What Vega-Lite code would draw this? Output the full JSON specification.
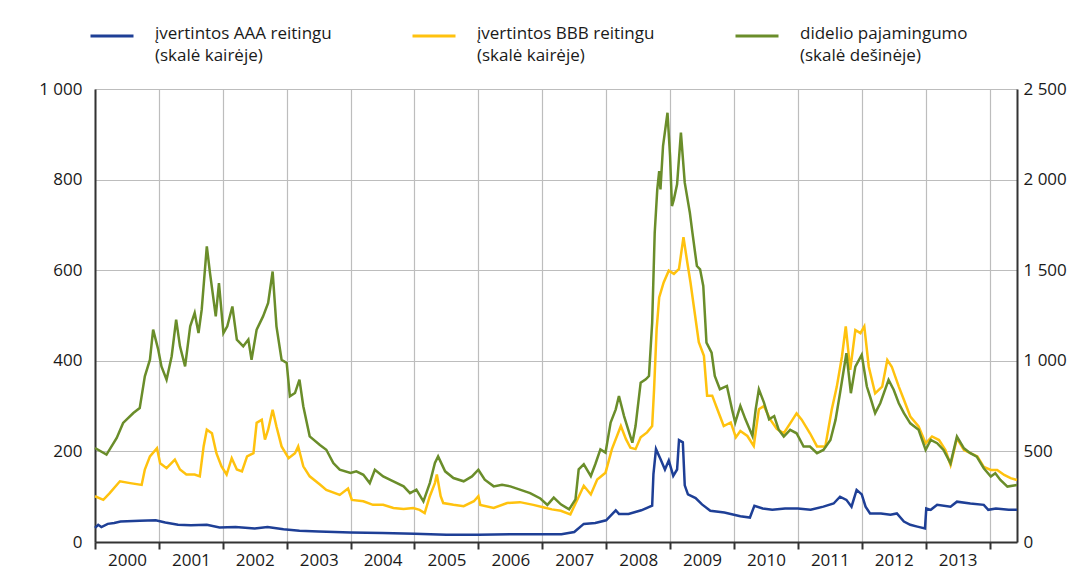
{
  "$schema": "https://vega.github.io/schema/vega-lite/v6.json",
  "autosize": {"type": "none"},
  "width": 922,
  "height": 453,
  "padding": {"left": 95, "top": 89, "right": 58, "bottom": 27},
  "background": "white",
  "config": {
    "view": {"stroke": null},
    "font": "Open Sans",
    "axis": {"labelFont": "Open Sans", "labelFontSize": 17, "labelColor": "#1a1a1a", "title": null}
  },
  "data": {"values": [
    {"t":2000.00,"s":"AAA","v":31},{"t":2000.05,"s":"AAA","v":38},{"t":2000.10,"s":"AAA","v":33},{"t":2000.20,"s":"AAA","v":40},{"t":2000.30,"s":"AAA","v":42},{"t":2000.40,"s":"AAA","v":45},{"t":2000.50,"s":"AAA","v":46},{"t":2000.70,"s":"AAA","v":47},{"t":2000.95,"s":"AAA","v":48},{"t":2001.10,"s":"AAA","v":43},{"t":2001.30,"s":"AAA","v":38},{"t":2001.50,"s":"AAA","v":37},{"t":2001.75,"s":"AAA","v":38},{"t":2001.95,"s":"AAA","v":32},{"t":2002.20,"s":"AAA","v":33},{"t":2002.50,"s":"AAA","v":30},{"t":2002.70,"s":"AAA","v":33},{"t":2002.95,"s":"AAA","v":28},{"t":2003.20,"s":"AAA","v":25},{"t":2003.50,"s":"AAA","v":23},{"t":2004.00,"s":"AAA","v":21},{"t":2004.50,"s":"AAA","v":20},{"t":2005.00,"s":"AAA","v":18},{"t":2005.50,"s":"AAA","v":16},{"t":2006.00,"s":"AAA","v":16},{"t":2006.50,"s":"AAA","v":17},{"t":2007.00,"s":"AAA","v":17},{"t":2007.30,"s":"AAA","v":17},{"t":2007.50,"s":"AAA","v":22},{"t":2007.65,"s":"AAA","v":40},{"t":2007.83,"s":"AAA","v":42},{"t":2008.00,"s":"AAA","v":48},{"t":2008.15,"s":"AAA","v":70},{"t":2008.20,"s":"AAA","v":62},{"t":2008.35,"s":"AAA","v":62},{"t":2008.55,"s":"AAA","v":70},{"t":2008.72,"s":"AAA","v":80},{"t":2008.74,"s":"AAA","v":150},{"t":2008.78,"s":"AAA","v":205},{"t":2008.85,"s":"AAA","v":183},{"t":2008.92,"s":"AAA","v":160},{"t":2008.98,"s":"AAA","v":180},{"t":2009.05,"s":"AAA","v":146},{"t":2009.11,"s":"AAA","v":160},{"t":2009.14,"s":"AAA","v":225},{"t":2009.20,"s":"AAA","v":220},{"t":2009.23,"s":"AAA","v":125},{"t":2009.28,"s":"AAA","v":105},{"t":2009.40,"s":"AAA","v":97},{"t":2009.50,"s":"AAA","v":83},{"t":2009.63,"s":"AAA","v":69},{"t":2009.85,"s":"AAA","v":65},{"t":2010.10,"s":"AAA","v":57},{"t":2010.25,"s":"AAA","v":54},{"t":2010.32,"s":"AAA","v":80},{"t":2010.45,"s":"AAA","v":74},{"t":2010.60,"s":"AAA","v":71},{"t":2010.80,"s":"AAA","v":74},{"t":2011.00,"s":"AAA","v":74},{"t":2011.20,"s":"AAA","v":71},{"t":2011.40,"s":"AAA","v":78},{"t":2011.56,"s":"AAA","v":85},{"t":2011.66,"s":"AAA","v":100},{"t":2011.76,"s":"AAA","v":93},{"t":2011.84,"s":"AAA","v":78},{"t":2011.92,"s":"AAA","v":115},{"t":2012.00,"s":"AAA","v":105},{"t":2012.06,"s":"AAA","v":78},{"t":2012.13,"s":"AAA","v":63},{"t":2012.30,"s":"AAA","v":63},{"t":2012.45,"s":"AAA","v":60},{"t":2012.55,"s":"AAA","v":63},{"t":2012.66,"s":"AAA","v":45},{"t":2012.76,"s":"AAA","v":38},{"t":2012.87,"s":"AAA","v":34},{"t":2012.99,"s":"AAA","v":30},{"t":2013.01,"s":"AAA","v":74},{"t":2013.08,"s":"AAA","v":71},{"t":2013.18,"s":"AAA","v":82},{"t":2013.39,"s":"AAA","v":78},{"t":2013.49,"s":"AAA","v":89},{"t":2013.70,"s":"AAA","v":85},{"t":2013.91,"s":"AAA","v":82},{"t":2013.98,"s":"AAA","v":71},{"t":2014.10,"s":"AAA","v":74},{"t":2014.30,"s":"AAA","v":71},{"t":2014.43,"s":"AAA","v":71},
    {"t":2000.00,"s":"BBB","v":101},{"t":2000.13,"s":"BBB","v":93},{"t":2000.23,"s":"BBB","v":108},{"t":2000.39,"s":"BBB","v":134},{"t":2000.55,"s":"BBB","v":130},{"t":2000.73,"s":"BBB","v":126},{"t":2000.78,"s":"BBB","v":160},{"t":2000.86,"s":"BBB","v":189},{"t":2000.97,"s":"BBB","v":207},{"t":2001.02,"s":"BBB","v":174},{"t":2001.12,"s":"BBB","v":163},{"t":2001.25,"s":"BBB","v":182},{"t":2001.33,"s":"BBB","v":160},{"t":2001.43,"s":"BBB","v":149},{"t":2001.56,"s":"BBB","v":149},{"t":2001.64,"s":"BBB","v":145},{"t":2001.70,"s":"BBB","v":211},{"t":2001.75,"s":"BBB","v":248},{"t":2001.83,"s":"BBB","v":240},{"t":2001.90,"s":"BBB","v":196},{"t":2001.98,"s":"BBB","v":167},{"t":2002.06,"s":"BBB","v":149},{"t":2002.14,"s":"BBB","v":185},{"t":2002.22,"s":"BBB","v":160},{"t":2002.30,"s":"BBB","v":156},{"t":2002.38,"s":"BBB","v":189},{"t":2002.48,"s":"BBB","v":196},{"t":2002.53,"s":"BBB","v":263},{"t":2002.61,"s":"BBB","v":270},{"t":2002.66,"s":"BBB","v":226},{"t":2002.71,"s":"BBB","v":248},{"t":2002.78,"s":"BBB","v":292},{"t":2002.84,"s":"BBB","v":255},{"t":2002.92,"s":"BBB","v":211},{"t":2003.03,"s":"BBB","v":185},{"t":2003.13,"s":"BBB","v":196},{"t":2003.18,"s":"BBB","v":211},{"t":2003.26,"s":"BBB","v":167},{"t":2003.36,"s":"BBB","v":145},{"t":2003.52,"s":"BBB","v":127},{"t":2003.62,"s":"BBB","v":115},{"t":2003.83,"s":"BBB","v":104},{"t":2003.96,"s":"BBB","v":118},{"t":2004.02,"s":"BBB","v":93},{"t":2004.20,"s":"BBB","v":90},{"t":2004.35,"s":"BBB","v":82},{"t":2004.51,"s":"BBB","v":82},{"t":2004.67,"s":"BBB","v":75},{"t":2004.83,"s":"BBB","v":73},{"t":2004.98,"s":"BBB","v":75},{"t":2005.08,"s":"BBB","v":71},{"t":2005.16,"s":"BBB","v":64},{"t":2005.24,"s":"BBB","v":101},{"t":2005.32,"s":"BBB","v":130},{"t":2005.35,"s":"BBB","v":149},{"t":2005.41,"s":"BBB","v":101},{"t":2005.45,"s":"BBB","v":86},{"t":2005.61,"s":"BBB","v":82},{"t":2005.77,"s":"BBB","v":79},{"t":2005.93,"s":"BBB","v":90},{"t":2006.00,"s":"BBB","v":101},{"t":2006.03,"s":"BBB","v":82},{"t":2006.24,"s":"BBB","v":75},{"t":2006.45,"s":"BBB","v":86},{"t":2006.65,"s":"BBB","v":88},{"t":2006.86,"s":"BBB","v":82},{"t":2007.03,"s":"BBB","v":76},{"t":2007.15,"s":"BBB","v":72},{"t":2007.29,"s":"BBB","v":69},{"t":2007.44,"s":"BBB","v":61},{"t":2007.55,"s":"BBB","v":94},{"t":2007.65,"s":"BBB","v":124},{"t":2007.76,"s":"BBB","v":105},{"t":2007.86,"s":"BBB","v":138},{"t":2007.99,"s":"BBB","v":153},{"t":2008.09,"s":"BBB","v":205},{"t":2008.23,"s":"BBB","v":256},{"t":2008.31,"s":"BBB","v":227},{"t":2008.38,"s":"BBB","v":208},{"t":2008.46,"s":"BBB","v":205},{"t":2008.54,"s":"BBB","v":231},{"t":2008.64,"s":"BBB","v":242},{"t":2008.72,"s":"BBB","v":256},{"t":2008.75,"s":"BBB","v":337},{"t":2008.79,"s":"BBB","v":470},{"t":2008.83,"s":"BBB","v":540},{"t":2008.90,"s":"BBB","v":573},{"t":2008.98,"s":"BBB","v":599},{"t":2009.06,"s":"BBB","v":592},{"t":2009.14,"s":"BBB","v":603},{"t":2009.21,"s":"BBB","v":673},{"t":2009.27,"s":"BBB","v":617},{"t":2009.32,"s":"BBB","v":573},{"t":2009.37,"s":"BBB","v":522},{"t":2009.45,"s":"BBB","v":441},{"t":2009.53,"s":"BBB","v":411},{"t":2009.58,"s":"BBB","v":323},{"t":2009.66,"s":"BBB","v":323},{"t":2009.74,"s":"BBB","v":293},{"t":2009.84,"s":"BBB","v":256},{"t":2009.95,"s":"BBB","v":264},{"t":2010.03,"s":"BBB","v":231},{"t":2010.10,"s":"BBB","v":245},{"t":2010.21,"s":"BBB","v":234},{"t":2010.31,"s":"BBB","v":212},{"t":2010.39,"s":"BBB","v":293},{"t":2010.47,"s":"BBB","v":300},{"t":2010.57,"s":"BBB","v":270},{"t":2010.67,"s":"BBB","v":250},{"t":2010.78,"s":"BBB","v":240},{"t":2010.88,"s":"BBB","v":262},{"t":2010.98,"s":"BBB","v":284},{"t":2011.06,"s":"BBB","v":270},{"t":2011.19,"s":"BBB","v":240},{"t":2011.30,"s":"BBB","v":211},{"t":2011.43,"s":"BBB","v":211},{"t":2011.53,"s":"BBB","v":292},{"t":2011.61,"s":"BBB","v":343},{"t":2011.69,"s":"BBB","v":409},{"t":2011.75,"s":"BBB","v":476},{"t":2011.82,"s":"BBB","v":380},{"t":2011.90,"s":"BBB","v":468},{"t":2011.98,"s":"BBB","v":461},{"t":2012.04,"s":"BBB","v":476},{"t":2012.11,"s":"BBB","v":387},{"t":2012.21,"s":"BBB","v":328},{"t":2012.32,"s":"BBB","v":343},{"t":2012.40,"s":"BBB","v":402},{"t":2012.47,"s":"BBB","v":387},{"t":2012.58,"s":"BBB","v":343},{"t":2012.66,"s":"BBB","v":314},{"t":2012.76,"s":"BBB","v":277},{"t":2012.89,"s":"BBB","v":255},{"t":2013.00,"s":"BBB","v":218},{"t":2013.10,"s":"BBB","v":233},{"t":2013.21,"s":"BBB","v":225},{"t":2013.31,"s":"BBB","v":203},{"t":2013.39,"s":"BBB","v":170},{"t":2013.49,"s":"BBB","v":229},{"t":2013.60,"s":"BBB","v":203},{"t":2013.70,"s":"BBB","v":196},{"t":2013.81,"s":"BBB","v":189},{"t":2013.91,"s":"BBB","v":166},{"t":2014.02,"s":"BBB","v":159},{"t":2014.12,"s":"BBB","v":159},{"t":2014.23,"s":"BBB","v":148},{"t":2014.33,"s":"BBB","v":141},{"t":2014.43,"s":"BBB","v":137},
    {"t":2000.00,"s":"HY","v":519},{"t":2000.18,"s":"HY","v":482},{"t":2000.34,"s":"HY","v":574},{"t":2000.44,"s":"HY","v":657},{"t":2000.60,"s":"HY","v":712},{"t":2000.70,"s":"HY","v":739},{"t":2000.78,"s":"HY","v":914},{"t":2000.86,"s":"HY","v":1006},{"t":2000.91,"s":"HY","v":1172},{"t":2000.99,"s":"HY","v":1061},{"t":2001.04,"s":"HY","v":969},{"t":2001.12,"s":"HY","v":896},{"t":2001.20,"s":"HY","v":1025},{"t":2001.27,"s":"HY","v":1227},{"t":2001.33,"s":"HY","v":1080},{"t":2001.41,"s":"HY","v":969},{"t":2001.49,"s":"HY","v":1190},{"t":2001.56,"s":"HY","v":1264},{"t":2001.62,"s":"HY","v":1153},{"t":2001.67,"s":"HY","v":1282},{"t":2001.75,"s":"HY","v":1632},{"t":2001.80,"s":"HY","v":1484},{"t":2001.89,"s":"HY","v":1245},{"t":2001.94,"s":"HY","v":1429},{"t":2002.01,"s":"HY","v":1153},{"t":2002.07,"s":"HY","v":1190},{"t":2002.15,"s":"HY","v":1300},{"t":2002.22,"s":"HY","v":1117},{"t":2002.32,"s":"HY","v":1080},{"t":2002.40,"s":"HY","v":1117},{"t":2002.45,"s":"HY","v":1006},{"t":2002.53,"s":"HY","v":1172},{"t":2002.63,"s":"HY","v":1245},{"t":2002.71,"s":"HY","v":1319},{"t":2002.78,"s":"HY","v":1493},{"t":2002.84,"s":"HY","v":1190},{"t":2002.92,"s":"HY","v":1006},{"t":2003.00,"s":"HY","v":988},{"t":2003.05,"s":"HY","v":804},{"t":2003.13,"s":"HY","v":822},{"t":2003.20,"s":"HY","v":896},{"t":2003.26,"s":"HY","v":749},{"t":2003.36,"s":"HY","v":583},{"t":2003.52,"s":"HY","v":535},{"t":2003.62,"s":"HY","v":509},{"t":2003.73,"s":"HY","v":436},{"t":2003.83,"s":"HY","v":399},{"t":2004.00,"s":"HY","v":381},{"t":2004.09,"s":"HY","v":390},{"t":2004.20,"s":"HY","v":371},{"t":2004.30,"s":"HY","v":325},{"t":2004.38,"s":"HY","v":399},{"t":2004.51,"s":"HY","v":362},{"t":2004.67,"s":"HY","v":335},{"t":2004.83,"s":"HY","v":307},{"t":2004.93,"s":"HY","v":270},{"t":2005.03,"s":"HY","v":289},{"t":2005.14,"s":"HY","v":224},{"t":2005.24,"s":"HY","v":325},{"t":2005.32,"s":"HY","v":436},{"t":2005.37,"s":"HY","v":472},{"t":2005.48,"s":"HY","v":390},{"t":2005.61,"s":"HY","v":353},{"t":2005.77,"s":"HY","v":335},{"t":2005.90,"s":"HY","v":362},{"t":2006.00,"s":"HY","v":399},{"t":2006.10,"s":"HY","v":344},{"t":2006.24,"s":"HY","v":307},{"t":2006.37,"s":"HY","v":316},{"t":2006.50,"s":"HY","v":307},{"t":2006.65,"s":"HY","v":289},{"t":2006.81,"s":"HY","v":270},{"t":2006.97,"s":"HY","v":240},{"t":2007.08,"s":"HY","v":205},{"t":2007.18,"s":"HY","v":245},{"t":2007.29,"s":"HY","v":208},{"t":2007.42,"s":"HY","v":180},{"t":2007.52,"s":"HY","v":235},{"t":2007.57,"s":"HY","v":401},{"t":2007.65,"s":"HY","v":429},{"t":2007.76,"s":"HY","v":364},{"t":2007.83,"s":"HY","v":429},{"t":2007.91,"s":"HY","v":511},{"t":2007.99,"s":"HY","v":493},{"t":2008.07,"s":"HY","v":659},{"t":2008.15,"s":"HY","v":732},{"t":2008.20,"s":"HY","v":806},{"t":2008.28,"s":"HY","v":695},{"t":2008.36,"s":"HY","v":603},{"t":2008.41,"s":"HY","v":548},{"t":2008.46,"s":"HY","v":640},{"t":2008.54,"s":"HY","v":879},{"t":2008.62,"s":"HY","v":898},{"t":2008.67,"s":"HY","v":916},{"t":2008.72,"s":"HY","v":1210},{"t":2008.76,"s":"HY","v":1707},{"t":2008.80,"s":"HY","v":1946},{"t":2008.83,"s":"HY","v":2047},{"t":2008.85,"s":"HY","v":1946},{"t":2008.89,"s":"HY","v":2185},{"t":2008.96,"s":"HY","v":2369},{"t":2009.00,"s":"HY","v":2130},{"t":2009.03,"s":"HY","v":1854},{"t":2009.06,"s":"HY","v":1891},{"t":2009.11,"s":"HY","v":1974},{"t":2009.17,"s":"HY","v":2259},{"t":2009.23,"s":"HY","v":1983},{"t":2009.31,"s":"HY","v":1817},{"t":2009.35,"s":"HY","v":1707},{"t":2009.42,"s":"HY","v":1523},{"t":2009.47,"s":"HY","v":1505},{"t":2009.52,"s":"HY","v":1413},{"t":2009.57,"s":"HY","v":1100},{"t":2009.65,"s":"HY","v":1045},{"t":2009.70,"s":"HY","v":916},{"t":2009.78,"s":"HY","v":843},{"t":2009.89,"s":"HY","v":861},{"t":2009.97,"s":"HY","v":732},{"t":2010.02,"s":"HY","v":659},{"t":2010.10,"s":"HY","v":751},{"t":2010.18,"s":"HY","v":677},{"t":2010.29,"s":"HY","v":585},{"t":2010.34,"s":"HY","v":732},{"t":2010.39,"s":"HY","v":843},{"t":2010.47,"s":"HY","v":769},{"t":2010.55,"s":"HY","v":677},{"t":2010.63,"s":"HY","v":695},{"t":2010.70,"s":"HY","v":620},{"t":2010.78,"s":"HY","v":582},{"t":2010.88,"s":"HY","v":619},{"t":2010.98,"s":"HY","v":600},{"t":2011.09,"s":"HY","v":527},{"t":2011.19,"s":"HY","v":527},{"t":2011.30,"s":"HY","v":490},{"t":2011.40,"s":"HY","v":508},{"t":2011.51,"s":"HY","v":563},{"t":2011.59,"s":"HY","v":674},{"t":2011.66,"s":"HY","v":821},{"t":2011.76,"s":"HY","v":1042},{"t":2011.83,"s":"HY","v":821},{"t":2011.90,"s":"HY","v":968},{"t":2012.00,"s":"HY","v":1033},{"t":2012.08,"s":"HY","v":858},{"t":2012.13,"s":"HY","v":803},{"t":2012.21,"s":"HY","v":711},{"t":2012.29,"s":"HY","v":766},{"t":2012.42,"s":"HY","v":895},{"t":2012.50,"s":"HY","v":840},{"t":2012.58,"s":"HY","v":766},{"t":2012.66,"s":"HY","v":711},{"t":2012.76,"s":"HY","v":655},{"t":2012.89,"s":"HY","v":619},{"t":2013.00,"s":"HY","v":508},{"t":2013.08,"s":"HY","v":563},{"t":2013.18,"s":"HY","v":545},{"t":2013.28,"s":"HY","v":508},{"t":2013.39,"s":"HY","v":434},{"t":2013.49,"s":"HY","v":582},{"t":2013.60,"s":"HY","v":517},{"t":2013.70,"s":"HY","v":490},{"t":2013.80,"s":"HY","v":471},{"t":2013.91,"s":"HY","v":407},{"t":2014.02,"s":"HY","v":361},{"t":2014.09,"s":"HY","v":379},{"t":2014.17,"s":"HY","v":342},{"t":2014.28,"s":"HY","v":306},{"t":2014.43,"s":"HY","v":315}
  ]},
  "encoding": {
    "x": {"field": "t", "type": "quantitative",
      "scale": {"domain": [2000, 2014.43], "nice": false, "zero": false},
      "axis": {"values": [2000,2001,2002,2003,2004,2005,2006,2007,2008,2009,2010,2011,2012,2013,2014],
        "labelExpr": "datum.value < 2014 ? format(datum.value, 'd') : ''",
        "labelOffset": 32, "labelAlign": "center", "labelFlush": false, "labelOverlap": false, "labelBound": false,
        "tickSize": 7, "tickWidth": 2, "tickColor": "#333333", "domainColor": "#333333", "domainWidth": 2,
        "labelPadding": 3, "grid": true, "gridColor": "#bdbdbd", "gridWidth": 1.2}},
    "color": {"field": "s", "type": "nominal",
      "scale": {"domain": ["AAA", "BBB", "HY"], "range": ["#1e3f96", "#ffc20e", "#6a8d2a"]},
      "legend": {"orient": "none", "legendX": -6, "legendY": -76, "direction": "horizontal", "title": null,
        "symbolType": "stroke", "symbolSize": 1849, "symbolStrokeWidth": 3, "labelOffset": 20,
        "labelFont": "Open Sans", "labelFontSize": 17, "labelColor": "#1a1a1a", "labelLimit": 400,
        "columnPadding": 74, "labelBaseline": "top",
        "labelExpr": "datum.label == 'AAA' ? ['įvertintos AAA reitingu', '(skalė kairėje)'] : datum.label == 'BBB' ? ['įvertintos BBB reitingu', '(skalė kairėje)'] : ['didelio pajamingumo', '(skalė dešinėje)']",
        "encode": {"labels": {"update": {"lineHeight": {"value": 22}, "dy": {"value": -10}}}}}
    }
  },
  "layer": [
    {"transform": [{"filter": "datum.s != 'HY'"}],
     "mark": {"type": "line", "strokeWidth": 2.5, "interpolate": "linear"},
     "encoding": {"y": {"field": "v", "type": "quantitative",
       "scale": {"domain": [0, 1000], "nice": false},
       "axis": {"orient": "left", "values": [0,200,400,600,800,1000],
         "labelExpr": "replace(format(datum.value, ','), ',', ' ')",
         "ticks": false, "labelPadding": 13, "domainColor": "#333333", "domainWidth": 2,
         "grid": true, "gridColor": "#bdbdbd", "gridWidth": 1.2}}}},
    {"transform": [{"filter": "datum.s == 'HY'"}],
     "mark": {"type": "line", "strokeWidth": 2.5, "interpolate": "linear"},
     "encoding": {"y": {"field": "v", "type": "quantitative",
       "scale": {"domain": [0, 2500], "nice": false},
       "axis": {"orient": "right", "values": [0,500,1000,1500,2000,2500],
         "labelExpr": "replace(format(datum.value, ','), ',', ' ')",
         "ticks": false, "labelPadding": 6, "domainColor": "#333333", "domainWidth": 2, "grid": false}}}}
  ],
  "resolve": {"scale": {"y": "independent"}}
}
